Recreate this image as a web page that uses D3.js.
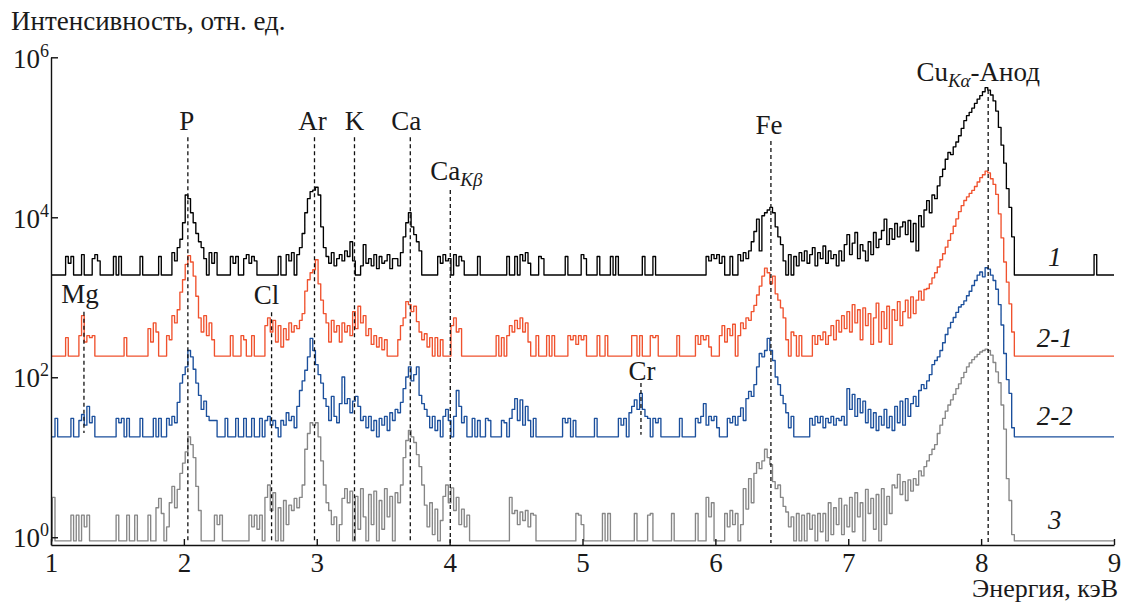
<!DOCTYPE html>
<html>
<head>
<meta charset="utf-8">
<script src="https://cdn.jsdelivr.net/npm/d3@7"></script>
<style>
body { margin: 0; background: #fff; }
svg text { font-family: "Liberation Serif", "Times New Roman", serif; fill: #1a1a1a; }
</style>
</head>
<body>
<svg id="chart" width="1123" height="602"></svg>
<script>
"use strict"

// energy grid of the spectra, keV: 1.00, 1.02 ... 9.00
const eStart = 1
const eStep = 0.02

// intensity of each spectrum relative to its own background level, one line per keV
const spec1 = [
   1,1,1,1,1,1,1.7,1.4,1.7,1, 1,1,1.8,1,1,1,1.6,1.8,1.5,1, 1,1,1,1,1.7,1,1.7,1,1,1, 1,1,1,1,1.7,1,1,1,1,1, 1,1.7,1,1,1,1,1.9,1.5,2.2,2.8,
   4.5,10,9,6,4.5,3.3,2.6,2.2,1.6,1, 1.9,1.4,1.9,1,1,1,1,1,1.7,1.4, 1.7,1,1,1.6,1.8,1.4,1.7,1.5,1,1, 1,1,1,1,1,1,1.7,1,1,1.8, 1.5,1.9,1,1.8,2.2,3.3,6,9,11,11.5,
   12.5,10,4,2.2,1.7,1.4,1.9,1.3,1.6,1.8, 1.5,2,1.7,2.6,1.5,1,1,1.3,2.4,1.4, 1.6,1.3,1.8,1.2,1.7,1.4,1.5,1.8,1.2,1.6, 1.6,1.3,1.9,3,4.5,6,4,3.2,2.6,2, 1,1,1,1,1,1,1.7,1.4,1.8,1.5,
   1.6,1,1.8,1.3,1.7,1.5,1,1,1,1, 1,1.7,1,1,1,1,1,1,1,1, 1,1,1.7,1,1,1.7,1,1.8,1.5,1.9, 1.4,1,1,1,1.7,1.6,1,1,1,1, 1,1,1,1,1.7,1,1,1,1,1,
   1.8,1.6,1,1,1,1,1.7,1,1,1, 1,1.7,1,1.7,1,1,1,1,1,1, 1,1,1,1.7,1,1,1,1.7,1,1, 1,1,1,1,1,1,1,1,1,1, 1,1,1,1,1,1,1,1.7,1.5,1.8,
   1.6,1.8,1.4,1.7,1,1,1.7,1,1,1.8, 1.5,1.9,1.6,2,2.6,3.5,5,2,5.5,6, 6.5,7,6,4,3,2.4,1.5,1,1.8,1, 1.7,1.3,1.9,1.5,2,1.4,1.8,2.2,1.3,1.9, 1.6,2.3,1.4,2,1.6,1.8,1.3,2,1.5,2.4,
   3.2,1.8,2.5,3.4,1.6,2.4,2,1.5,2.6,1.8, 3.4,2.2,2.8,3.6,5,2.4,3.8,2.8,4.4,3, 4,4.6,3.2,4.8,2.6,4.4,2,5.5,4,6.5, 8.5,6,10,9,13,17,21,28,34,32, 40,46,55,68,85,98,108,122,140,158,
   175,195,220,205,178,150,112,70,42,25, 12,7,3,1,1,1,1,1,1,1, 1,1,1,1,1,1,1,1,1,1, 1,1,1,1,1,1,1,1,1,1, 1,1,1,1.8,1,1,1,1,1,1,
   1
]
const spec21 = [
   1,1,1,1,1,1,1.7,1,1,1, 1,1.8,3.2,1.5,1.8,1.7,1.8,1,1,1, 1,1,1,1,1,1,1,1,1.7,1, 1,1,1,1,1,1,1,2.2,1.5,2.6, 2,1,1,1,1.8,1.6,3.2,2.6,3.8,6.3,
   9,14,18,15,10,5.6,3,2,3.2,1.8, 2.6,1.6,1,1,1,1,1,1,1.8,1, 1,1,1.8,1.6,1,1,1.8,1,1,1, 1,2.4,3,2,2.8,1.5,2.4,1.3,2.2,1.6, 2.6,2,2.4,2.2,2.8,3.4,6.5,9,11,12,
   16,8,5,3.4,2.6,1.5,2.8,2,2.4,1.5, 2.6,2,2.4,1.8,3.6,2.2,4.2,2.6,3.2,1.8, 2.2,1.4,1.8,1.3,1.7,1.2,1.6,1,1,1, 1,1.6,2.4,3,4.8,4.4,3.6,4.2,2.7,2, 1.6,1.9,1.3,1.7,1,1.7,1,1.6,1,1,
   1,2.4,3,2,2.2,1,1,1,1,1, 1,1,1,1,1,1,1,1,1.8,1, 1.7,1,1.8,2.4,2,2.8,2.2,3,2,2.6, 1.5,1,1,1.8,1,1,1,1.8,1,1.8, 1,1,1,1,1,1.8,1.6,1.8,1.4,1.8,
   1.6,1.8,1,1,1,1,1.8,1,1,1.8, 1,1,1,1,1,1,1,1,1,1.8, 1.8,1,1.8,1,1,1,1.8,1.7,1.8,1, 1,1,1,1,1,1,1.8,1,1,1, 1,1,1,1.8,1.4,1.8,1.6,1.8,1.3,1,
   1,1,1.8,2.4,1.5,2.2,1.8,2.5,1,1.8, 2.6,2.2,3,2.8,3.6,4.3,5.8,7.5,10,12.6, 11,8,10,6,5,4,3,1.6,1,2, 1.8,1,1.8,1,1,1,1,1.8,1.4,1.8, 1.6,2,1.4,1.8,2.4,1.6,2.8,2,3.2,2.2,
   3.6,2,4.4,2.6,3.8,1.6,4,2.4,3.4,1.4, 3,4.6,1.5,3.6,2.2,4.2,1.4,3.8,2.8,4.8, 2.4,3.6,5,3,5.5,3.4,5,6.5,5,6.8, 7,8,9.5,11,13,16,19,23,28,34, 42,52,64,76,88,98,108,118,132,150,
   170,185,205,195,165,140,105,60,30,15, 8.4,4.5,2,1,1,1,1,1,1,1, 1,1,1,1,1,1,1,1,1,1, 1,1,1,1,1,1,1,1,1,1, 1,1,1,1,1,1,1,1,1,1,
   1
]
const spec22 = [
   1,1,1.7,1,1,1,1,1,1.7,1, 1,1.6,1.9,1.4,2.4,1.5,1.8,1,1,1, 1,1,1,1,1,1.7,1.5,1.7,1,1.7, 1,1,1,1,1.7,1,1,1,1,1.7, 1,1.7,1,1,1.7,1.4,1.8,1.5,2.7,4.7,
   6,7.5,12,10,7,4.7,3.3,2.2,2.8,1.8, 1.6,1.6,1.6,1,1,1,1.7,1,1,1, 1.7,1,1,1.7,1,1,1.7,1,1,1.7, 1,1.6,1.8,1.4,1.6,1.3,1,1.6,1.4,2, 1.6,1.8,1.3,2.4,3.8,5,6.8,10,17,12,
   8,6,4.7,3,2.4,1.6,3.2,1.8,1.5,2.6, 5.6,2.6,3,2,2.8,3.2,2.4,1.6,1.8,1.3, 1.8,1.2,1.6,1,1.7,1.4,1.8,1.2,2,1.6, 2.2,2,2.7,4,5.6,7.5,5,6,7.5,3.3, 2.6,2.2,1.8,1.3,1.8,1.2,1.6,1,1.8,2.2,
   1.6,1,1.8,3.8,2.4,1.5,1.8,1,1,1.7, 1,1.6,1,1,1.7,1.6,1,1,1,1, 1.6,1.5,1,1.7,2.2,3,1.6,2.9,1.4,2.4, 1.6,1,1.7,1,1,1,1,1,1,1, 1,1,1,1.7,1.5,1.7,1,1.6,1,1,
   1,1,1,1,1,1.7,1,1,1,1, 1,1,1,1,1.7,1.4,1.7,1,2,2.4, 2.9,2.2,3.5,2.2,1.8,1.7,1,1.7,1.5,1.7, 1,1,1,1,1,1,1,1.7,1,1, 1,1,1,1.7,1.5,1.8,2.6,1.4,1.8,1.6,
   1.8,1.3,1,1,1,1.7,1.5,1.8,1.4,1.8, 2.3,1.6,3,3.7,3.2,4.5,7.5,11,10,12, 17,12,9,5.6,4.5,3.3,2.6,2,1.3,1.8, 1,1,1,1,1,1,1.7,1.4,1.8,1.5, 1.8,1.3,1.7,1.5,1.8,1.4,1.7,1.6,1.8,1.4,
   4,2.2,3.4,1.8,3,2,2.8,1.5,2.2,1.3, 2,1.2,1.8,1.4,2.2,1.3,1.8,1.2,2.4,1.5, 2.8,1.4,3,1.8,2.6,3.2,2.4,3.8,4.5,4, 5,6,8,9,10,12,15,19,23,27, 31,36,42,45,50,58,66,78,90,105,
   115,100,130,125,105,90,70,45,25,11, 5.2,3.5,1.3,1,1,1,1,1,1,1, 1,1,1,1,1,1,1,1,1,1, 1,1,1,1,1,1,1,1,1,1, 1,1,1,1,1,1,1,1,1,1,
   1
]
const spec3 = [
   1,3.5,1,1,1,1,1,1,2.1,1, 2.1,1,2.1,1.5,2.1,1,1,1,1,1, 1,1,1,1,1,2.1,1,1,1,2.1, 1,1,2.1,1,1,1,1,2.1,1,1, 2.6,3.4,2.2,1,1.5,3,4.8,2.6,4.4,7,
   9.4,13,20,16,11,4.8,2.4,1,1,1, 1,1,2.1,1.6,2.1,1,1,1,1,1, 1,1,1,1,1,2.1,1.5,2.1,1.4,2.1, 1,3.5,5,2.4,4,1,2.6,1,3.2,1.6, 2.8,2.4,3.4,2.6,3.5,5,14,22,30,28,
   30,20,10,5,3,2.4,1.6,2,1,1.6, 3.4,4.5,3,4.2,1,3.6,1.4,4.5,2,1, 3.8,1.6,4.2,1,3.2,1.4,4.5,2,3.6,1, 4,3,5,11,18,24,20,17,12,8.5, 5,2.8,1.5,3,1.2,2.5,1,1.8,3.6,5,
   3,4.6,2.4,3.5,1.6,2.5,1.5,2.1,1,1, 1,1,1,1,1,1,1,1,1,1, 1,1,1,3.5,2.2,2.4,1.6,2.3,1.8,2.4, 1.5,2.2,2.1,1,1,1,1,1,1,1, 1,1,1,1,1,1,1,1,2.2,2.1,
   1.6,1,1,1,1,1,1,1,2.2,1, 2.2,1,1,1,1,1,1,1,1,1, 2.2,1,1,1,1,2.1,2.2,1,1,1, 1,1,1,1,2.2,1,1,1,1,1, 1,1,1,2.2,1,1,1,3.5,2,3,
   1,1,1,1,2.2,1.5,2.4,1.6,2.2,1, 1.6,4.5,2.5,6,3,7,9.5,8,10,14, 11,9,5.5,4.5,5,3.5,2.7,2.3,1.5,2, 1,2.2,1,2.1,1,2.2,1.4,2.1,1,2.2, 1.3,2.2,1,3,1.2,2.6,1.6,3.4,1.2,2.8,
   1.5,3.5,1.3,4,2,3,1,4.4,2.2,3.4, 1.4,3.8,1,4.5,1.6,3.6,2.2,5,4.6,6.8, 3.8,5.5,3.2,5.8,4.2,6,5,7.5,6.5,8.5, 10,12,14,16,22,28,34,42,50,58, 68,80,92,110,128,150,168,185,200,215,
   230,240,250,240,210,170,130,95,50,25, 6,3.2,1.2,1,1,1,1,1,1,1, 1,1,1,1,1,1,1,1,1,1, 1,1,1,1,1,1,1,1,1,1, 1,1,1,1,1,1,1,1,1,1,
   1
]

const seriesNames = ['1', '2-1', '2-2', '3']
const seriesData = [spec1, spec21, spec22, spec3]
// background level of each spectrum, отн. ед.
const baseLevels = [1900, 184, 18, 0.9]

const xTicks = [1, 2, 3, 4, 5, 6, 7, 8, 9]
const yTicks = [1, 1e2, 1e4, 1e6]

// line labels: name, subscript, energy (keV), top of dashed line and its bottom (intensity)
const peakNames = ['Mg', 'P', 'Cl', 'Ar', 'K', 'Ca', 'Ca', 'Cr', 'Fe', 'Cu']
const peakSubs = ['', '', '', '', '', '', 'Kβ', '', '', 'Kα']
const peakEnergy = [1.248, 2.03, 2.66, 2.983, 3.284, 3.704, 4.005, 5.44, 6.418, 8.053]
const peakTop = [660, 1e5, 650, 1e5, 1e5, 1e5, 2.2e4, 85, 9e4, 3.9e5]
const peakBottom = [19, 0.8, 0.8, 0.8, 0.8, 0.8, 0.8, 18, 0.8, 0.8]

const colors = ['#000000', '#f0522e', '#1b4f9c', '#868686']
// label shift from the dashed line, px
const labelDx = [-4, -1, -5, -2, 0, -4, 6, 1, -2, -10]
const labelGap = [9, 7, 8, 7, 7, 7, 10, 3, 7, 9]

const FS = 27
const svg = d3.select('#chart')

const x = d3.scaleLinear([1, 9], [51, 1114])
const y = d3.scaleLog([0.8, 1e6], [545, 57.3])

const xAxis = d3.axisBottom(x)
   .tickValues(xTicks)
   .tickSizeInner(-6)
   .tickSizeOuter(0)
   .tickPadding(8)
   .tickFormat(d3.format('d'))

const yAxis = d3.axisLeft(y)
   .tickValues(yTicks)
   .tickSizeInner(-7)
   .tickSizeOuter(0)
   .tickPadding(2)
   .tickFormat('')

// spectra, lowest first so the black one stays on top
const line = d3.line()
   .x((d, i) => x(eStart + i * eStep))
   .curve(d3.curveStep)

for (let s = seriesData.length - 1; s >= 0; s--) {
   svg.append('path')
      .datum(seriesData[s])
      .attr('fill', 'none')
      .attr('stroke', colors[s])
      .attr('stroke-width', 1.35)
      .attr('stroke-linejoin', 'round')
      .attr('d', line.y(d => y(d * baseLevels[s])))
}

svg.append('g')
   .attr('transform', `translate(0, ${y.range()[0]})`)
   .call(xAxis)
   .call(g => g.selectAll('text').attr('font-size', FS).attr('fill', '#1a1a1a')
      .attr('font-family', '"Liberation Serif", serif'))

svg.append('g')
   .attr('transform', `translate(${x.range()[0]}, 0)`)
   .call(yAxis)
   .call(g => g.selectAll('.tick text').each(function (d) {
      const t = d3.select(this)
         .attr('font-size', FS)
         .attr('fill', '#1a1a1a')
         .attr('font-family', '"Liberation Serif", serif')
         .attr('dy', '0.36em')
      t.append('tspan').text('10')
      t.append('tspan').attr('font-size', 18).attr('dy', -11).text(Math.round(Math.log10(d)))
   }))

svg.selectAll('.domain, .tick line')
   .attr('stroke', '#111')
   .attr('stroke-width', 1.4)

// dashed marker lines and element labels
peakNames.forEach((name, i) => {
   const px = x(peakEnergy[i])
   svg.append('line')
      .attr('x1', px).attr('x2', px)
      .attr('y1', y(peakTop[i])).attr('y2', y(peakBottom[i]) - 2)
      .attr('stroke', '#111')
      .attr('stroke-width', 1.3)
      .attr('stroke-dasharray', '4,3')

   const t = svg.append('text')
      .attr('x', px + labelDx[i])
      .attr('y', y(peakTop[i]) - labelGap[i])
      .attr('text-anchor', 'middle')
      .attr('font-size', FS)
   t.append('tspan').text(name)
   if (peakSubs[i]) {
      t.append('tspan').attr('font-size', 19).attr('font-style', 'italic').attr('dy', 6).text(peakSubs[i])
      if (name === 'Cu') t.append('tspan').attr('dy', -6).text('-Анод')
   }
})

// spectrum numbers at the right end
seriesNames.forEach((name, i) => {
   svg.append('text')
      .attr('x', x(8.555))
      .attr('y', y(baseLevels[i]) - (i < 2 ? 9 : 12))
      .attr('text-anchor', 'middle')
      .attr('font-size', FS)
      .attr('font-style', 'italic')
      .text(name)
})

svg.append('text')
   .attr('x', 11).attr('y', 30)
   .attr('font-size', FS)
   .text('Интенсивность, отн. ед.')

svg.append('text')
   .attr('x', 1118).attr('y', 597)
   .attr('text-anchor', 'end')
   .attr('font-size', 26)
   .text('Энергия, кэВ')
</script>
</body>
</html>
